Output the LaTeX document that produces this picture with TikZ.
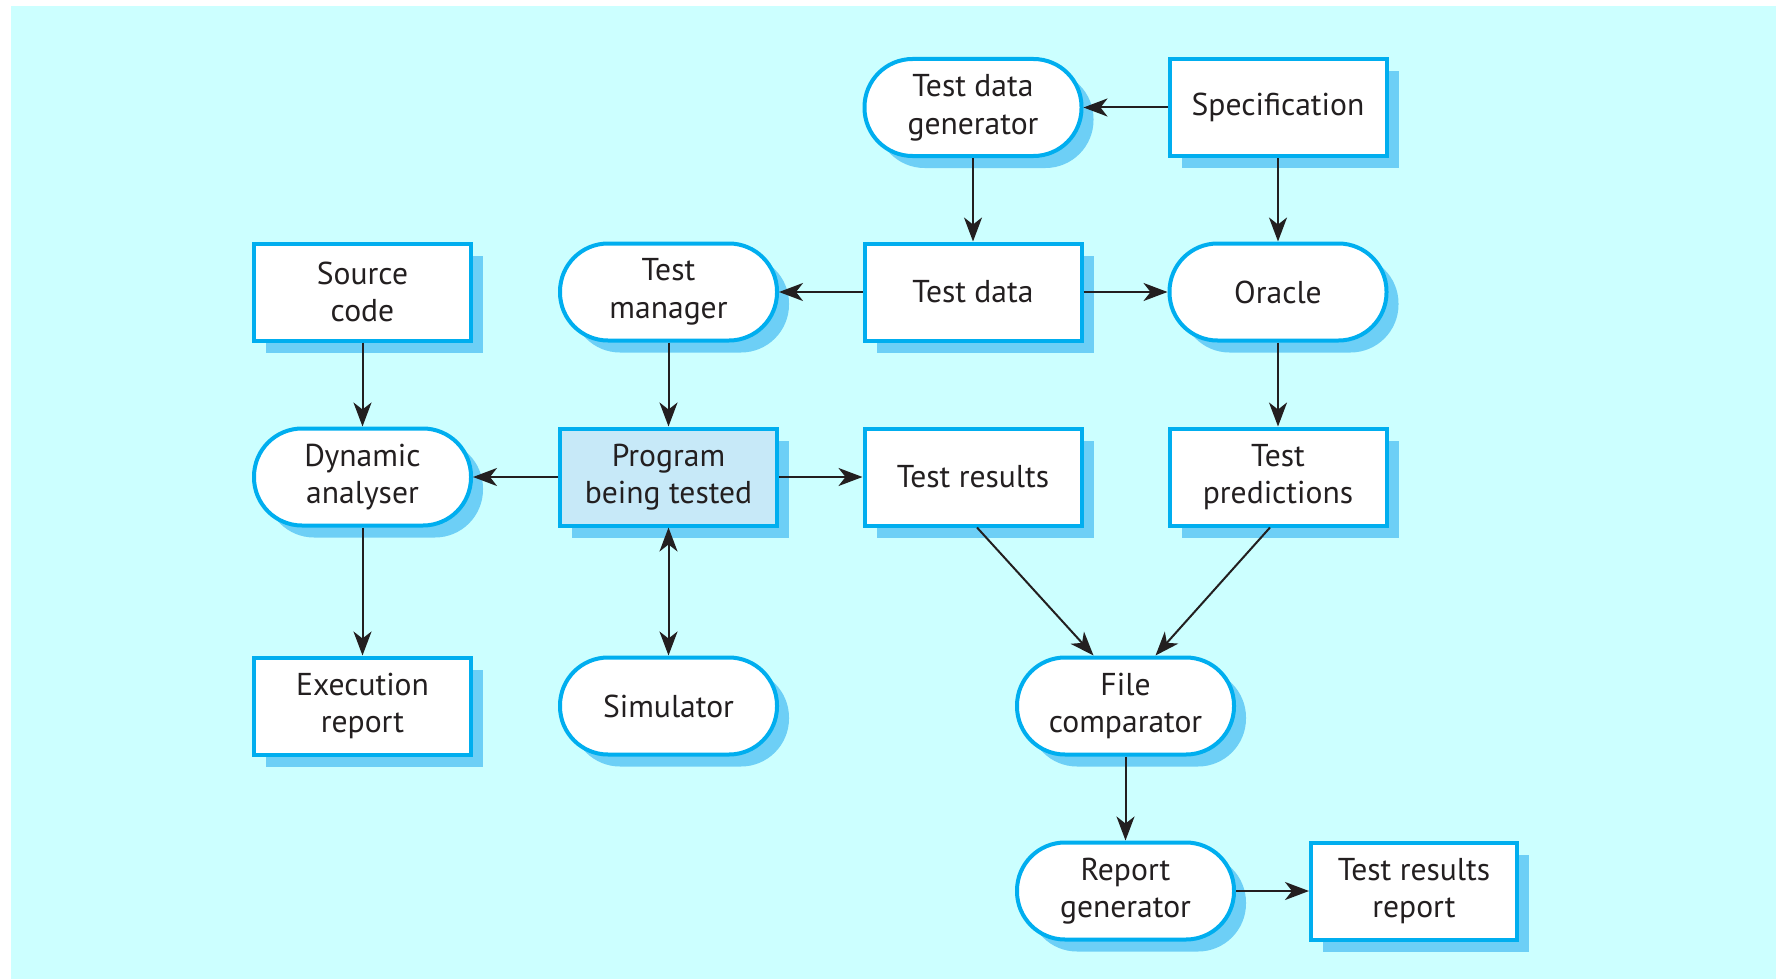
\documentclass[tikz,border=0pt]{standalone}
\usepackage{fontspec}
\setmainfont{PT Sans}
\usetikzlibrary{arrows.meta,shadows}
\definecolor{bgc}{HTML}{CCFFFF}
\definecolor{edgec}{HTML}{00AEEF}
\definecolor{shadc}{HTML}{6DCFF6}
\definecolor{progc}{HTML}{C7E9F8}
\definecolor{inkc}{HTML}{231F20}
\tikzset{
  base/.style={draw=edgec, line width=2pt, fill=white,
    minimum width=108.5pt, minimum height=48.5pt, inner sep=2pt,
    align=center, text=inkc, font=\fontsize{15.8}{18.8}\selectfont,
    drop shadow={shadow xshift=6pt, shadow yshift=-6pt, fill=shadc, opacity=1}},
  databox/.style={base},
  procbox/.style={base, rounded corners=24pt},
  link/.style={draw=inkc, line width=1pt, >={Stealth[length=12pt,width=9pt,inset=3.5pt]}},
}
\begin{document}
\begin{tikzpicture}[x=0.5pt, y=-0.5pt]
  % canvas and background panel
  \useasboundingbox (0,0) rectangle (1776,979);
  \fill[bgc] (11,6) rectangle (1776,979);

  % top row
  \node[procbox] (gen)  at (973,107.5)  {Test data\\generator};
  \node[databox] (spec) at (1278,107.5) {Specification};

  % second row
  \node[databox] (src)    at (362.5,292) {Source\\code};
  \node[procbox] (mgr)    at (668.5,292) {Test\\manager};
  \node[databox] (data)   at (973,292)   {Test data};
  \node[procbox] (oracle) at (1278,292)  {Oracle};

  % third row
  \node[procbox] (dyn)  at (362.5,477) {Dynamic\\analyser};
  \node[databox, fill=progc] (prog) at (668.5,477) {Program\\being tested};
  \node[databox] (res)  at (973,477)   {Test results};
  \node[databox] (pred) at (1278,477)  {Test\\predictions};

  % fourth row
  \node[databox] (exec) at (362.5,706)  {Execution\\report};
  \node[procbox] (sim)  at (668.5,706)  {Simulator};
  \node[procbox] (cmp)  at (1125.5,706) {File\\comparator};

  % bottom row
  \node[procbox] (rep) at (1125.5,891) {Report\\generator};
  \node[databox, minimum width=103pt] (trr) at (1414,891) {Test results\\report};

  % connectors
  \draw[link,->] (spec) -- (gen);
  \draw[link,->] (gen) -- (data);
  \draw[link,->] (spec) -- (oracle);
  \draw[link,->] (data) -- (mgr);
  \draw[link,->] (data) -- (oracle);
  \draw[link,->] (oracle) -- (pred);
  \draw[link,->] (src) -- (dyn);
  \draw[link,->] (mgr) -- (prog);
  \draw[link,->] (prog) -- (dyn);
  \draw[link,->] (prog) -- (res);
  \draw[link,<->] (prog) -- (sim);
  \draw[link,->] (dyn) -- (exec);
  \draw[link,->] ([xshift=2pt]res.south) -- ([xshift=-16pt]cmp.north);
  \draw[link,->] ([xshift=-4pt]pred.south) -- ([xshift=15pt]cmp.north);
  \draw[link,->] (cmp) -- (rep);
  \draw[link,->] (rep) -- (trr);
\end{tikzpicture}
\end{document}
